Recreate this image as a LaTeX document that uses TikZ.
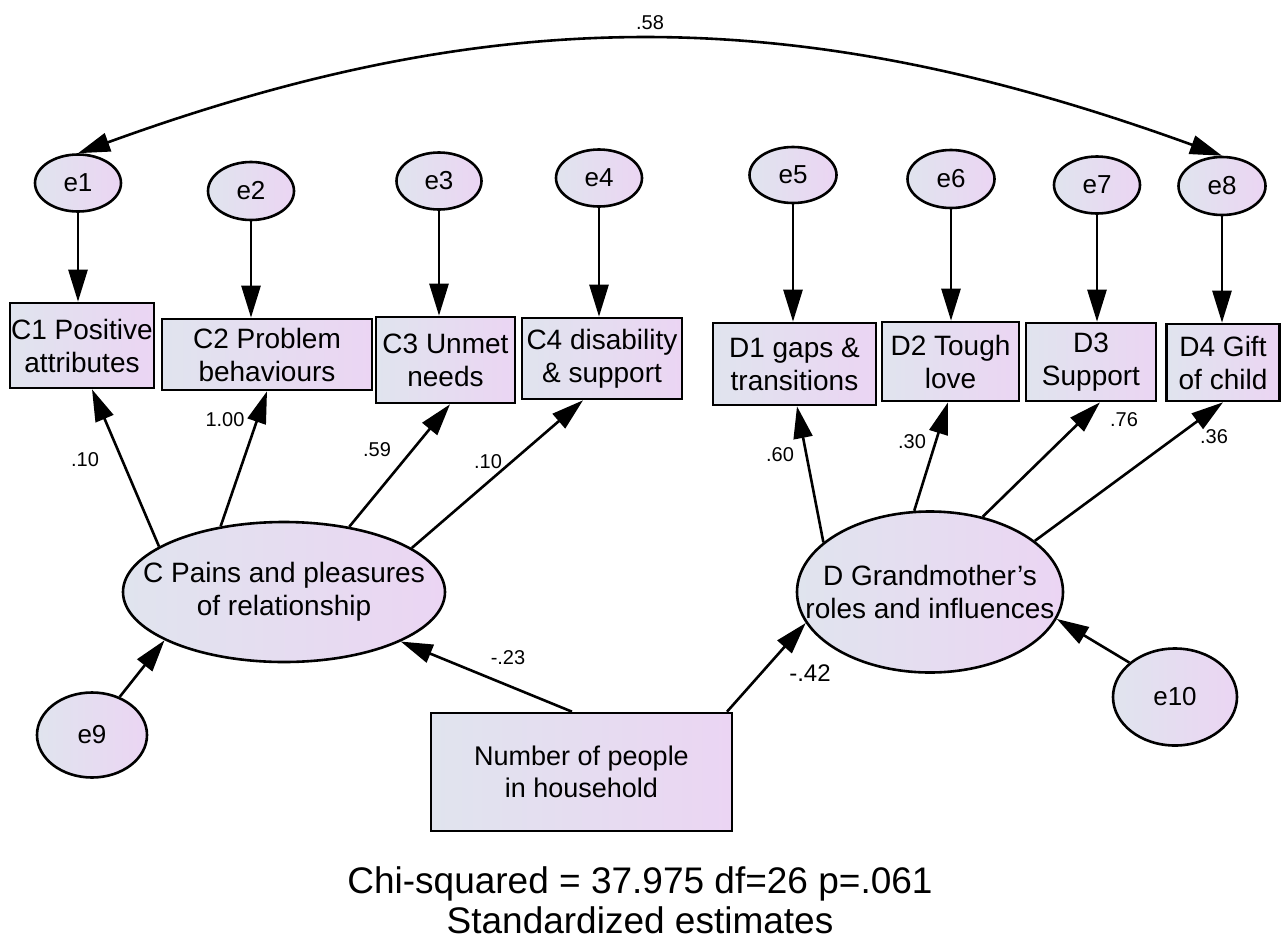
\documentclass[tikz,border=0pt]{standalone}
\usepackage{fontspec}
\setmainfont{Liberation Sans}
\usetikzlibrary{arrows.meta,shapes.geometric}
\definecolor{gradL}{RGB}{224,228,238}
\definecolor{gradR}{RGB}{235,213,243}
\begin{document}
\begin{tikzpicture}[x=1pt,y=-1pt,
  font=\fontsize{28}{33}\selectfont,
  grad/.style={left color=gradL,right color=gradR},
  obs/.style={rectangle,draw,line width=2.6pt,grad,inner sep=0pt,align=center},
  err/.style={ellipse,draw,line width=2.6pt,grad,inner sep=0pt,font=\fontsize{26}{30}\selectfont},
  latent/.style={ellipse,draw,line width=2.6pt,grad,inner sep=0pt},
  arr/.style={line width=2.6pt,-{Triangle[length=32pt,width=19pt]}},
  coef/.style={inner sep=1pt,font=\fontsize{20}{24}\selectfont},
  caption/.style={inner sep=0pt,font=\fontsize{37}{37}\selectfont}]

\fill[white] (0,0) rectangle (1283,943);
\useasboundingbox (0,0) rectangle (1283,943);

% error terms of the indicators
\node[err,minimum width=86,minimum height=57] (e1) at (78,183) {e1};
\node[err,minimum width=86,minimum height=58] (e2) at (251,191) {e2};
\node[err,minimum width=85,minimum height=57] (e3) at (439,181) {e3};
\node[err,minimum width=86,minimum height=57] (e4) at (599,178) {e4};
\node[err,minimum width=87,minimum height=56] (e5) at (793,175) {e5};
\node[err,minimum width=87,minimum height=58] (e6) at (951,179) {e6};
\node[err,minimum width=86,minimum height=57] (e7) at (1097,185) {e7};
\node[err,minimum width=87,minimum height=58] (e8) at (1222,186) {e8};

% observed indicators
\node[obs,minimum width=144,minimum height=85] (C1) at (82,345.5) {C1 Positive\\attributes};
\node[obs,minimum width=210,minimum height=71] (C2) at (267,354.5) {C2 Problem\\behaviours};
\node[obs,minimum width=139,minimum height=86] (C3) at (445.5,360) {C3 Unmet\\needs};
\node[obs,minimum width=160,minimum height=81] (C4) at (602,358.5) {C4 disability\\\& support};
\node[obs,minimum width=163,minimum height=82] (D1) at (794.5,364) {D1 gaps \&\\transitions};
\node[obs,minimum width=137,minimum height=79] (D2) at (950.5,361.5) {D2 Tough\\love};
\node[obs,minimum width=130,minimum height=78] (D3) at (1091,362) {D3\\Support};
\node[obs,minimum width=113,minimum height=77] (D4) at (1223,362.5) {D4 Gift\\of child};

% latent factors
\node[latent,minimum width=322,minimum height=140,
  label={[align=center]center:C Pains and pleasures\\of relationship}] (C) at (284,592) {};
\node[latent,minimum width=266,minimum height=161,
  label={[align=center]center:D Grandmother’s\\roles and influences}] (D) at (930,592) {};

% disturbances and the exogenous variable
\node[err,minimum width=110,minimum height=85] (e9) at (92,735) {e9};
\node[err,minimum width=124,minimum height=97] (e10) at (1175,697) {e10};
\node[obs,minimum width=301,minimum height=118,font=\fontsize{27}{32}\selectfont] (N) at (581.5,772) {Number of people\\in household};

% error paths
\foreach \e/\v in {e1/C1,e2/C2,e3/C3,e4/C4,e5/D1,e6/D2,e7/D3,e8/D4}
  \draw[arr] (\e.south) -- (\e.south |- \v.north);

% loadings
\draw[arr] (C.160) -- ([xshift=10pt]C1.south);
\draw[arr] (C.134) -- (C2.south);
\draw[arr] (C.45) -- ([xshift=4.5pt]C3.south);
\draw[arr] (C.19) -- ([xshift=-19pt]C4.south);
\draw[arr] (D.155) -- ([xshift=2.5pt]D1.south);
\draw[arr] (D.101) -- ([xshift=-2.5pt]D2.south);
\draw[arr] (D.55) -- ([xshift=9pt]D3.south);
\draw[arr] (D.26) -- (D4.south);

% structural paths
\draw[arr] ([xshift=-9.5pt]N.north) -- (C.-23);
\draw[arr] ([xshift=145.5pt]N.north) -- (D.-166);
\draw[arr] (e9.54) -- (C.-158);
\draw[arr] (e10.143) -- (D.-12);

% covariance between e1 and e8
\draw[line width=2.6pt,{Triangle[length=32pt,width=19pt]}-{Triangle[length=32pt,width=19pt]}]
  (e1.north) .. controls ([shift={(421,-153)}]e1.north) and ([shift={(-421,-153)}]e8.north)
  .. node[coef,pos=0.5,above=8pt] (k58) {.58} (e8.north);

% estimates
\node[coef] (k1) at (85,460) {.10};
\node[coef] (k2) at (225,420) {1.00};
\node[coef] (k3) at (377,450) {.59};
\node[coef] (k4) at (488,462) {.10};
\node[coef] (k5) at (780,455) {.60};
\node[coef] (k6) at (912,442) {.30};
\node[coef] (k7) at (1124,420) {.76};
\node[coef] (k8) at (1214,437) {.36};
\node[coef] (k9) at (508,658) {-.23};
\node[coef,font=\fontsize{24}{28}\selectfont] (k10) at (810,673) {-.42};

% fit summary
\node[caption] (fit) at (640,884) {Chi-squared = 37.975 df=26 p=.061};
\node[caption] (std) at (640,920) {Standardized estimates};
\end{tikzpicture}
\end{document}
